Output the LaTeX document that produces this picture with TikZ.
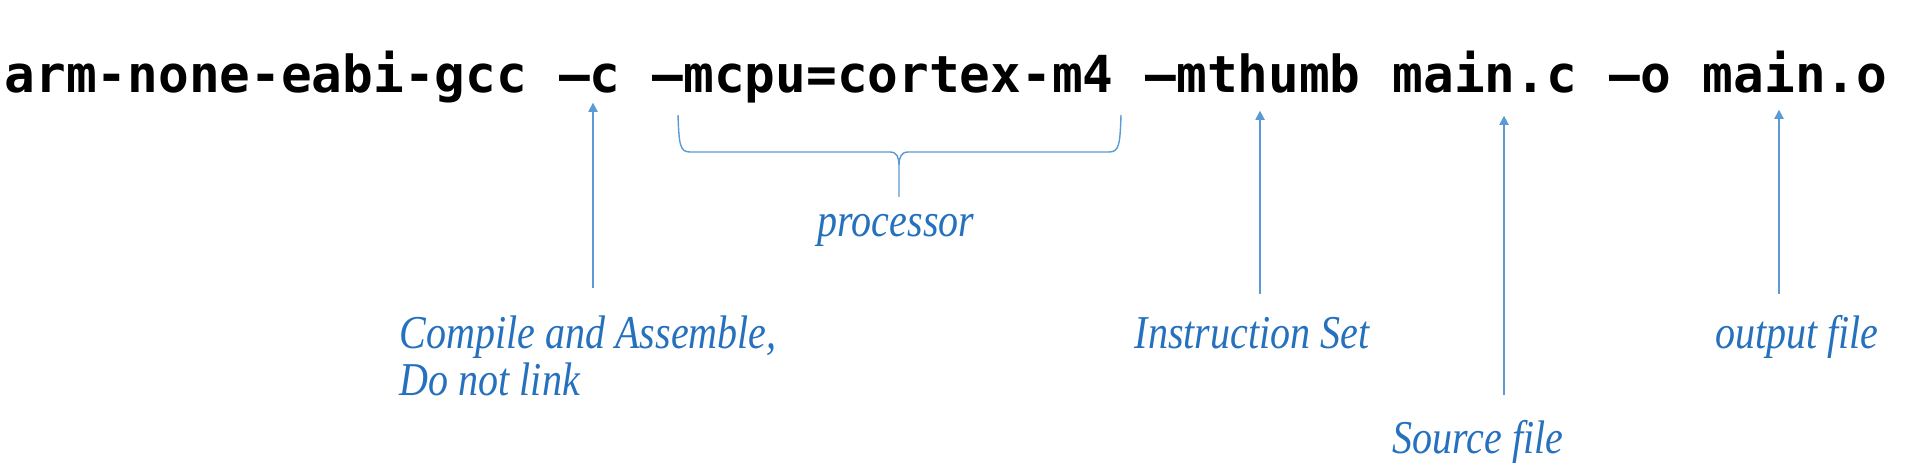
\documentclass[tikz,border=0pt]{standalone}
\usepackage{fontspec}
\newfontfamily\codefont{DejaVu Sans Mono}
\newfontfamily\notefont{Liberation Serif}[FakeStretch=0.85]
\usetikzlibrary{arrows.meta,positioning}
\definecolor{pointerblue}{RGB}{91,155,213}
\definecolor{noteblue}{RGB}{38,113,190}

\begin{document}
\begin{tikzpicture}[
    token/.style={font=\codefont\bfseries\fontsize{14.52pt}{17pt}\selectfont, inner sep=0pt, text height=11pt, text depth=2.56pt},
    note/.style={font=\notefont\itshape\fontsize{13.4pt}{13.4pt}\selectfont, text=noteblue, inner sep=0pt},
    pointer/.style={-{Triangle[length=2.6pt,width=2.6pt]}, draw=pointerblue, line width=0.45pt},
    brace line/.style={draw=pointerblue, line width=0.4pt}
  ]
    \path[fill=white, use as bounding box] (0,0) rectangle (19.06,-4.63);

    % The command line, one node per token so the pointers can reach them.
    \node[token, anchor=base west] (cmd) at (0.04,-0.93) {arm-none-eabi-gcc};
    \node[token, right=3.07mm of cmd] (optC) {–c};
    \node[token, right=3.07mm of optC] (optCpu) {–mcpu=cortex-m4};
    \node[token, right=3.07mm of optCpu] (optThumb) {–mthumb};
    \node[token, right=3.07mm of optThumb] (srcFile) {main.c};
    \node[token, right=3.07mm of srcFile] (optO) {–o};
    \node[token, right=3.07mm of optO] (objFile) {main.o};

    % Brace under the cpu option.
    \draw[brace line] (6.78,-1.15) .. controls (6.79,-1.45) and (6.80,-1.52) .. (6.90,-1.52) -- (8.90,-1.52)
      .. controls (8.97,-1.52) and (8.99,-1.58) .. (8.99,-1.65) -- (8.99,-1.97)
      (8.99,-1.65) .. controls (8.99,-1.58) and (9.01,-1.52) .. (9.08,-1.52) -- (11.09,-1.52)
      .. controls (11.19,-1.52) and (11.20,-1.45) .. (11.21,-1.15);

    \node[note, anchor=base west, align=left] (noteCompile) at (3.99,-3.96) {Compile and Assemble,\\Do not link};
    \node[note, anchor=base] (noteCpu) at (8.96,-2.37) {processor};
    \node[note, anchor=base] (noteThumb) at (12.52,-3.49) {Instruction Set};
    \node[note, anchor=base] (noteSrc) at (14.78,-4.54) {Source file};
    \node[note, anchor=base] (noteObj) at (17.97,-3.49) {output file};

    \coordinate (tailC) at (5.93,-2.88);
    \coordinate (tailThumb) at (12.60,-2.94);
    \coordinate (tailSrc) at (15.04,-3.95);
    \coordinate (tailObj) at (17.79,-2.94);

    \draw[pointer] (tailC) -- (tailC |- optC.south);
    \draw[pointer, shorten >=0.8mm] (tailThumb) -- (tailThumb |- optThumb.south);
    \draw[pointer, shorten >=1.3mm] (tailSrc) -- (tailSrc |- srcFile.south);
    \draw[pointer, shorten >=0.7mm] (tailObj) -- (tailObj |- objFile.south);
  \end{tikzpicture}
\end{document}
